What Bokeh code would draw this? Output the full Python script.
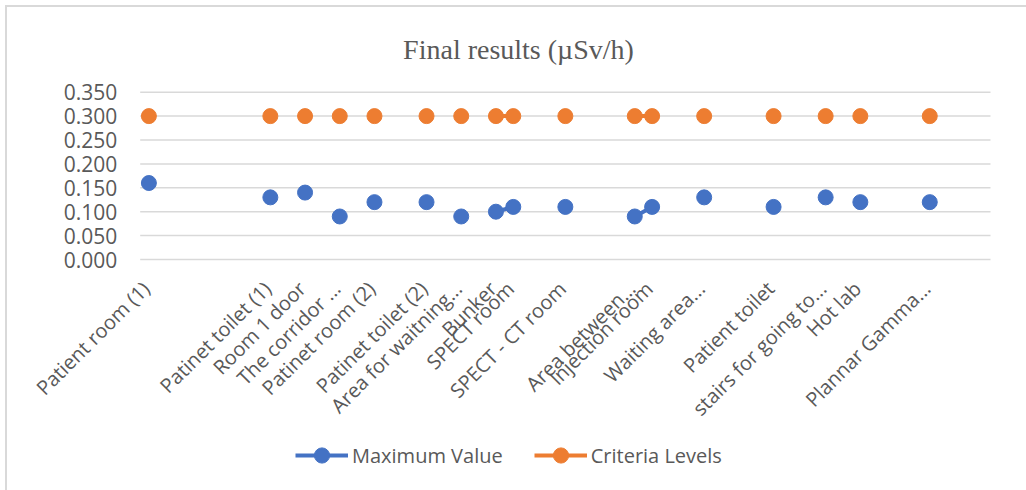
import math
import numpy as np
from bokeh.plotting import figure
from bokeh.models import ColumnDataSource, Range1d, Legend, LegendItem, Label
from bokeh.core.properties import value
from bokeh.embed import file_html
from bokeh.resources import INLINE

# ---- data ----
n_slots = 49  # category slots on the axis (many are blank)
slot_index = [0, 7, 9, 11, 13, 16, 18, 20, 21, 24, 28, 29, 32, 36, 39, 41, 45]
labels = ["Patient room (1)", "Patinet toilet (1)", "Room 1 door", "The corridor ...",
          "Patinet room (2)", "Patinet toilet (2)", "Area for waitning...", "Bunker",
          "SPECT room", "SPECT - CT room", "Area between...", "Injection room",
          "Waiting area...", "Patient toilet", "stairs for going to...", "Hot lab",
          "Plannar Gamma..."]
maximum_value = [0.16, 0.13, 0.14, 0.09, 0.12, 0.12, 0.09, 0.10, 0.11, 0.11, 0.09, 0.11,
                 0.13, 0.11, 0.13, 0.12, 0.12]
criteria_levels = [0.3] * 17
y_ticks = [0.0, 0.05, 0.1, 0.15, 0.2, 0.25, 0.3, 0.35]
y_tick_labels = ["0.000", "0.050", "0.100", "0.150", "0.200", "0.250", "0.300", "0.350"]

BLUE = "#4472C4"
ORANGE = "#ED7D31"
TXT = "#595959"
GRID = "#D9D9D9"
FONT = "Open Sans"

W, H = 1026, 490
# plot-area geometry (pixels in the page)
AREA_L, AREA_R, AREA_TOP, AREA_BOT = 139.7, 990.0, 91.7, 259.0
slot_px = (AREA_R - AREA_L) / n_slots
y_px = (AREA_BOT - AREA_TOP) / max(y_ticks)
x_lo = -0.5 - AREA_L / slot_px
x_hi = -0.5 + (W - AREA_L) / slot_px
y_hi = AREA_BOT / y_px
y_lo = -(H - AREA_BOT) / y_px
LABEL_Y = -11.5 / y_px   # rotated category labels hang just under the axis

# full slot arrays with gaps (NaN) so lines only join adjacent categories
xs = list(range(n_slots))
max_full = [np.nan] * n_slots
crit_full = [np.nan] * n_slots
for i, s in enumerate(slot_index):
    max_full[s] = maximum_value[i]
    crit_full[s] = criteria_levels[i]

src = ColumnDataSource(dict(x=xs, m=max_full, c=crit_full))
lab_src = ColumnDataSource(dict(x=slot_index, y=[LABEL_Y] * len(slot_index), t=labels))
grid_src = ColumnDataSource(dict(y=y_ticks, t=y_tick_labels,
                                 x0=[-0.5] * len(y_ticks), x1=[n_slots - 0.5] * len(y_ticks)))

p = figure(width=W, height=H, output_backend="svg", toolbar_location=None,
           x_axis_location=None, y_axis_location=None,
           x_range=Range1d(x_lo, x_hi), y_range=Range1d(y_lo, y_hi),
           min_border=0)
p.border_fill_color = None
p.background_fill_color = None
p.outline_line_color = None
p.grid.visible = False
p.styles = {"background": "linear-gradient(#D9D9D9,#D9D9D9) 5px 5px / 2px 100% no-repeat, "
                          "linear-gradient(#D9D9D9,#D9D9D9) 5px 5px / 100% 2px no-repeat"}

# horizontal gridlines + value labels
p.segment("x0", "y", "x1", "y", source=grid_src, line_color=GRID, line_width=1.5)
p.text("x0", "y", text="t", source=grid_src, x_offset=-23,
       text_align="right", text_baseline="middle",
       text_font=value(FONT), text_font_size="21px", text_color=TXT)

# rotated category labels
p.text("x", "y", text="t", source=lab_src, angle=math.pi / 4,
       x_offset=-3, y_offset=14,
       text_align="right", text_baseline="middle",
       text_font=value(FONT), text_font_size="20px", text_color=TXT)

l1 = p.line("x", "m", source=src, line_color=BLUE, line_width=4)
s1 = p.scatter("x", "m", source=src, size=15, fill_color=BLUE, line_color=BLUE)
l2 = p.line("x", "c", source=src, line_color=ORANGE, line_width=4)
s2 = p.scatter("x", "c", source=src, size=15, fill_color=ORANGE, line_color=ORANGE)

# title
p.add_layout(Label(x=518, y=H - 49, x_units="screen", y_units="screen",
                   text="Final results (µSv/h)", text_align="center", text_baseline="middle",
                   text_font="Liberation Serif", text_font_size="28px", text_color=TXT))

legend = Legend(items=[LegendItem(label="Maximum Value", renderers=[l1, s1]),
                       LegendItem(label="Criteria Levels", renderers=[l2, s2])],
                orientation="horizontal", location=(295, 16),
                label_text_font=FONT, label_text_font_size="20px", label_text_color=TXT,
                glyph_width=53, glyph_height=38, label_standoff=4, spacing=31,
                padding=0, margin=0, border_line_color=None, background_fill_alpha=0)
p.add_layout(legend, "center")

open("out.html", "w").write(file_html(p, INLINE))
